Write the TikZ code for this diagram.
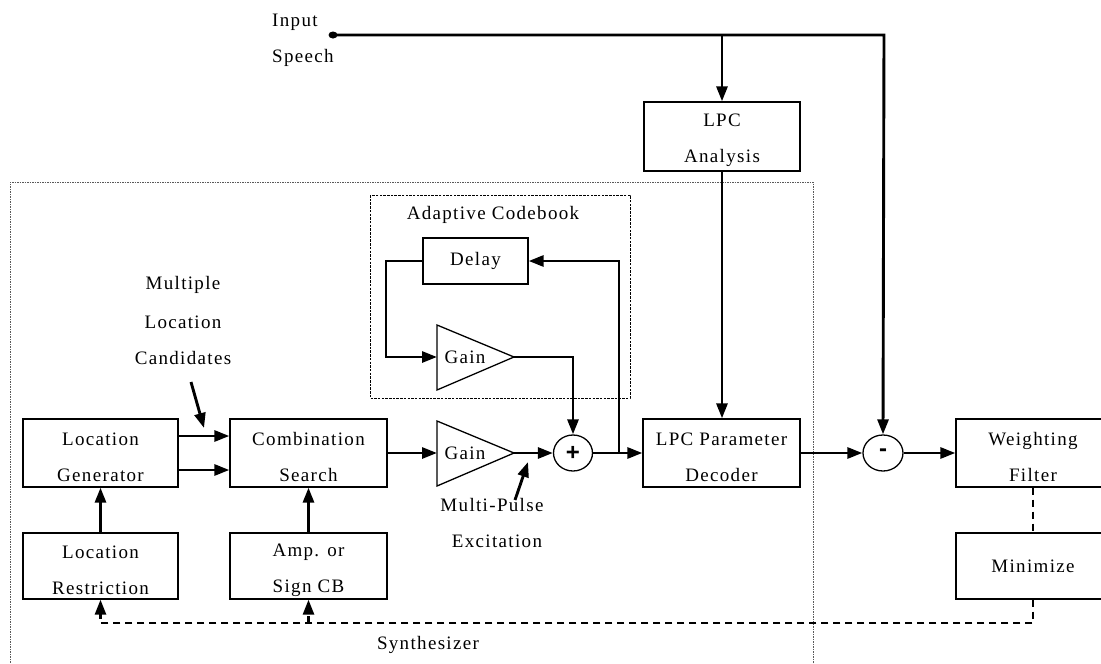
\documentclass[tikz,border=0pt]{standalone}
\usepackage{fontspec}
\setmainfont{Liberation Serif}[LetterSpace=7]
\newfontfamily\symfont{Liberation Sans}
\usetikzlibrary{arrows.meta,shapes.geometric,calc}
\newcommand{\lblfont}{\fontsize{19}{36}\selectfont}
\newcommand{\tp}{\rule{0pt}{21pt}}
\begin{document}
\begin{tikzpicture}[x=1pt,y=-1pt,
  box/.style={draw, line width=1.3pt, inner sep=0pt, align=center, font=\lblfont},
  wide/.style={minimum width=155pt, minimum height=68pt},
  conn/.style={line width=2.9pt, -{Triangle[length=15pt,width=11pt]}},
  fb/.style={line width=2.7pt, dash pattern=on 7pt off 5pt},
  fbarrow/.style={fb, -{Triangle[length=15pt,width=11pt]}},
  sumnode/.style={draw, ellipse, line width=1.3pt, minimum width=39pt, minimum height=36pt, inner sep=0pt, font=\symfont\bfseries\fontsize{24}{24}\selectfont},
  txt/.style={font=\lblfont, align=center, inner sep=0pt},
  tri/.style={draw, line width=1.3pt}
]
\useasboundingbox (0,0) rectangle (1101,664);

% enclosing boxes
\draw[gray!70!black, line width=1pt, dash pattern=on 1.5pt off 1pt] (10,670) -- (10,182) -- (813,182) -- (813,670);
\draw[line width=1pt, dash pattern=on 2.5pt off 1.2pt] (370,195) rectangle (630,398);
\node[txt] (synlbl) at (428,645) {Synthesizer};
\node[txt] (adlbl) at (493,215) {Adaptive Codebook};

% input
\fill (333,35) ellipse (4.5pt and 3.5pt);
\coordinate (in) at (333,35);
\coordinate (corner) at (884,35);
\coordinate (br) at (722,35);
\node[txt, anchor=base west] (inlbl) at (272,26) {Input};
\node[txt, anchor=base west] (splbl) at (272,62) {Speech};

% boxes
\node[box, minimum width=156pt, minimum height=69pt] (lpcan) at (722,136.5) {\tp LPC\\Analysis};
\node[box, wide, minimum width=155pt] (locgen) at (100.5,453) {\tp Location\\Generator};
\node[box, wide, minimum width=157pt] (comb) at (308.5,453) {\tp Combination\\Search};
\node[box, wide, minimum width=157pt] (lpcdec) at (721.5,453) {\tp LPC Parameter\\Decoder};
\node[box, wide, minimum width=154pt] (weight) at (1033,453) {\tp Weighting\\Filter};
\node[box, minimum width=155pt, minimum height=66pt] (locres) at (100.5,566) {\tp Location\\Restriction};
\node[box, minimum width=157pt, minimum height=66pt] (amp) at (308.5,566) {\tp Amp. or\\Sign CB};
\node[box, minimum width=154pt, minimum height=66pt] (mini) at (1033,566) {Minimize};
\node[box, minimum width=105pt, minimum height=46pt] (delay) at (475.5,261) {Delay};

% gains (triangles)
\draw[tri] (437,421) -- (514,453) -- (437,486) -- cycle;
\coordinate (g1in) at (437,453);
\coordinate (g1out) at (514,453);
\node[txt] (g1) at (465,453) {Gain};
\draw[tri] (437,325) -- (514,357) -- (437,390) -- cycle;
\coordinate (g2in) at (437,357);
\coordinate (g2out) at (514,357);
\node[txt] (g2) at (465,357) {Gain};

% summing nodes
\node[sumnode] (plus) at (573,453) {+};
\node[sumnode, minimum width=40pt] (minus) at (883,453) {-};

% labels
\node[txt] (mlc1) at (183,285) {Multiple};
\node[txt] (mlc2) at (183,322) {Location};
\node[txt] (mlc3) at (183,358) {Candidates};
\coordinate (mlcA) at (191,382);
\coordinate (mlcB) at (204,428);
\node[txt] (mp1) at (492,505) {Multi-Pulse};
\node[txt] (mp2) at (497,541) {Excitation};
\coordinate (mpA) at (515,500);
\coordinate (mpB) at (528,462);

% connectors
\draw[conn] (in) -- (corner) -- (minus.north);
\draw[conn] (br) -- (lpcan.north);
\draw[conn] (lpcan.south) -- (lpcan.south |- lpcdec.north);
\draw[conn] ([yshift=17pt]locgen.east) -- ([yshift=17pt]comb.west);
\draw[conn] ([yshift=-17pt]locgen.east) -- ([yshift=-17pt]comb.west);
\draw[conn] (mlcA) -- (mlcB);
\draw[conn] (comb.east) -- (g1in);
\draw[conn] (g1out) -- (plus.west);
\draw[conn] (mpA) -- (mpB);
\coordinate (jn) at (619,453);
\draw[conn] (plus.east) -- (lpcdec.west);
\draw[conn] (jn) -- (619,261) -- (delay.east);
\draw[conn] (delay.west) -- (386,261) -- (386,357) -- (g2in);
\draw[conn] (g2out) -- (573,357) -- (plus.north);
\draw[conn] (lpcdec.east) -- (minus.west);
\draw[conn] (minus.east) -- (weight.west);
\draw[conn] (locres.north) -- (locgen.south);
\draw[conn] (amp.north) -- (comb.south);

% feedback
\draw[fb] (weight.south) -- (mini.north);
\coordinate (fbr) at (1033,623);
\coordinate (fbl) at (100.5,623);
\coordinate (fbm) at (308.5,623);
\draw[fbarrow] (mini.south) -- (fbr) -- (fbl) -- (locres.south);
\draw[fbarrow] (fbm) -- (amp.south);
\end{tikzpicture}
\end{document}
